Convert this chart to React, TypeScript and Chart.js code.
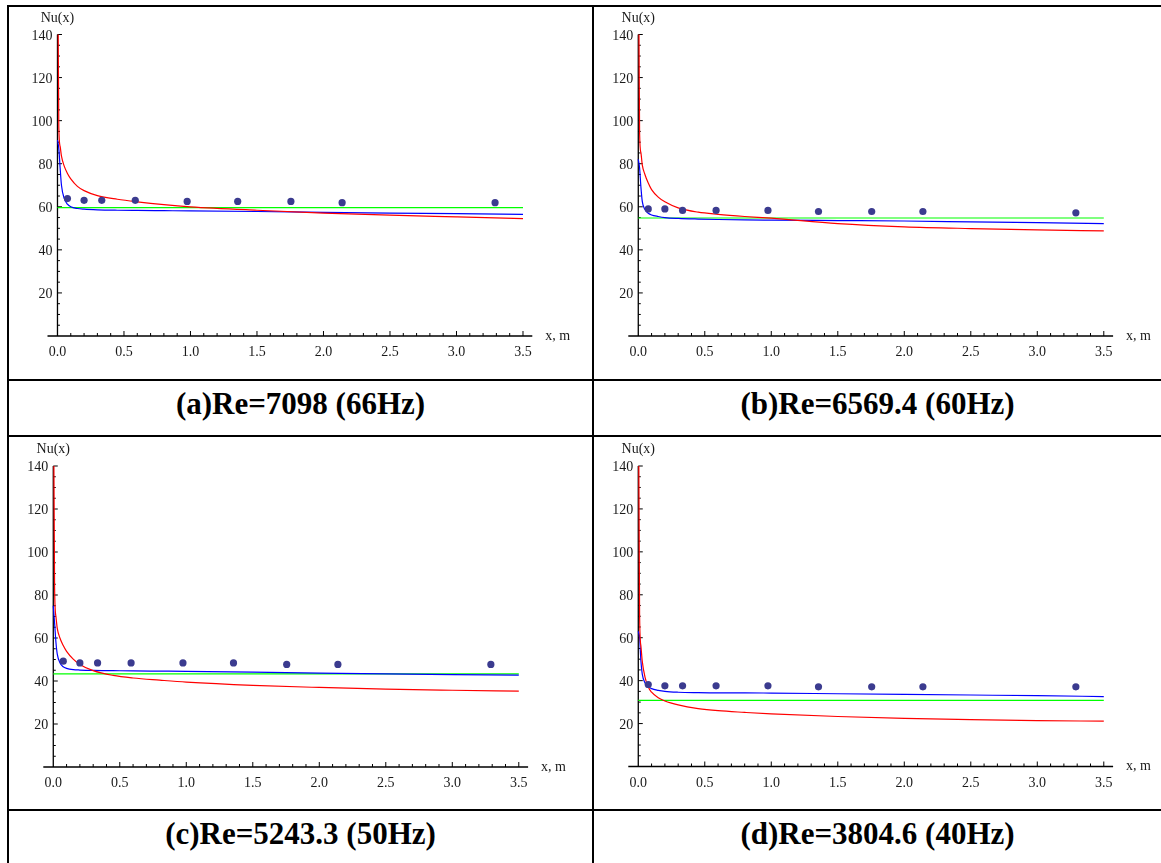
import React, { useEffect, useRef } from 'react';
import { Chart, registerables } from 'chart.js';

Chart.register(...registerables);

// ---------- data ----------
const measuredX = [0.075, 0.2, 0.333, 0.585, 0.975, 1.355, 1.755, 2.14, 3.29];
const curveX = [0, 0.01, 0.02, 0.03, 0.05, 0.075, 0.1, 0.15, 0.2, 0.3, 0.45, 0.6, 0.8, 1.0, 1.5, 2.0, 2.5, 3.0, 3.5];
const greenX = [0, 3.5];

// (a) Re=7098
const pointsA = [63.8, 63.0, 63.0, 63.0, 62.5, 62.5, 62.5, 61.9, 61.9];
const redA = [200, 97, 88, 83.5, 79, 75.5, 73, 69.5, 67.5, 65.2, 63.5, 62.3, 61.0, 60.0, 58.4, 57.1, 56.1, 55.3, 54.5];
const blueA = [91, 87, 78, 70, 64, 61.2, 60, 59.2, 58.9, 58.6, 58.4, 58.3, 58.2, 58.1, 57.8, 57.4, 57.1, 56.8, 56.5];
const greenA = [59.6, 59.6];

// (b) Re=6569.4
const pointsB = [59.0, 59.0, 58.3, 58.3, 58.3, 57.8, 57.8, 57.8, 57.2];
const redB = [200, 94, 85, 79.5, 75, 71, 68, 64.5, 62.3, 59.5, 57.5, 56.5, 55.5, 54.7, 52.2, 50.7, 49.9, 49.3, 48.8];
const blueB = [82, 78, 69, 62.5, 58.7, 57, 56.2, 55.5, 55.0, 54.6, 54.3, 54.1, 53.9, 53.8, 53.6, 53.4, 53.0, 52.6, 52.2];
const greenB = [54.8, 54.8];

// (c) Re=5243.3
const pointsC = [49.2, 48.4, 48.4, 48.4, 48.4, 48.4, 47.7, 47.7, 47.7];
const redC = [200, 83, 70, 64.5, 60, 56.5, 53.8, 50.2, 47.7, 44.8, 42.6, 41.4, 40.4, 39.5, 38.0, 37.0, 36.2, 35.7, 35.3];
const blueC = [75, 67, 58, 52.5, 48.5, 46.6, 45.9, 45.3, 45.1, 44.9, 44.8, 44.7, 44.6, 44.5, 44.1, 43.7, 43.3, 43.0, 42.7];
const greenC = [43.3, 43.3];

// (d) Re=3804.6
const pointsD = [38.2, 37.6, 37.6, 37.6, 37.6, 37.1, 37.1, 37.1, 37.1];
const redD = [200, 70, 56, 49, 41.8, 37, 34.6, 32.0, 30.5, 28.7, 27.0, 26.0, 25.2, 24.5, 23.3, 22.4, 21.8, 21.4, 21.1];
const blueD = [63, 60, 49, 43, 39, 37.2, 36.3, 35.5, 35.0, 34.6, 34.4, 34.3, 34.3, 34.2, 33.9, 33.6, 33.3, 33.0, 32.6];
const greenD = [30.8, 30.8];

const captions = ['(a)Re=7098 (66Hz)', '(b)Re=6569.4 (60Hz)', '(c)Re=5243.3 (50Hz)', '(d)Re=3804.6 (40Hz)'];

// ticks
const xTickLabels = [0, 0.5, 1.0, 1.5, 2.0, 2.5, 3.0, 3.5];
const yTickLabels = [20, 40, 60, 80, 100, 120, 140];
const xMinorStep = 0.1;
const yMinorStep = 5;

const xMin = -0.075;
const xMax = 3.57;
const yMin = 0;
const yMax = 140;

// ---------- layout (page px) ----------
type Rect = { left: number; top: number; w: number; h: number };
type Area = { left: number; right: number; top: number; bottom: number };
const panelLayout: { canvas: Rect; area: Area }[] = [
  { canvas: { left: 9, top: 7, w: 583, h: 372 }, area: { left: 47.5, right: 532.3, top: 34.5, bottom: 336 } },
  { canvas: { left: 594, top: 7, w: 567, h: 372 }, area: { left: 628.3, right: 1113.1, top: 34.5, bottom: 336 } },
  { canvas: { left: 9, top: 437, w: 583, h: 372 }, area: { left: 43.3, right: 528.1, top: 466, bottom: 767 } },
  { canvas: { left: 594, top: 437, w: 567, h: 372 }, area: { left: 628.3, right: 1113.1, top: 466, bottom: 766.5 } },
];

const panelData = [
  { points: pointsA, red: redA, blue: blueA, green: greenA },
  { points: pointsB, red: redB, blue: blueB, green: greenB },
  { points: pointsC, red: redC, blue: blueC, green: greenC },
  { points: pointsD, red: redD, blue: blueD, green: greenD },
];

const FONT = '"Liberation Serif", "Times New Roman", serif';

const axesPlugin = {
  id: 'mmaAxes',
  beforeDatasetsDraw(chart: any) {
    const { ctx, chartArea } = chart;
    const x = chart.scales.x;
    const y = chart.scales.y;
    const x0 = x.getPixelForValue(0);
    const y0 = y.getPixelForValue(0);
    ctx.save();
    ctx.strokeStyle = '#000';
    ctx.lineWidth = 1.3;
    ctx.beginPath();
    ctx.moveTo(chartArea.left, y0);
    ctx.lineTo(chartArea.right, y0);
    ctx.moveTo(x0, chartArea.bottom);
    ctx.lineTo(x0, chartArea.top);
    ctx.stroke();

    ctx.lineWidth = 1;
    ctx.beginPath();
    const nx = Math.round((xTickLabels[xTickLabels.length - 1] - 0) / xMinorStep);
    for (let i = 1; i <= nx; i++) {
      const v = i * xMinorStep;
      const major = i % 5 === 0;
      const px = x.getPixelForValue(v);
      ctx.moveTo(px, y0);
      ctx.lineTo(px, y0 - (major ? 5 : 3));
    }
    const ny = Math.round(yTickLabels[yTickLabels.length - 1] / yMinorStep);
    for (let i = 1; i <= ny; i++) {
      const v = i * yMinorStep;
      const major = i % 4 === 0;
      const py = y.getPixelForValue(v);
      ctx.moveTo(x0, py);
      ctx.lineTo(x0 + (major ? 4.5 : 2.5), py);
    }
    ctx.stroke();

    ctx.fillStyle = '#1a1a1a';
    ctx.font = `14px ${FONT}`;
    ctx.textBaseline = 'alphabetic';
    ctx.textAlign = 'center';
    xTickLabels.forEach((v) => ctx.fillText(v.toFixed(1), x.getPixelForValue(v), y0 + 20));
    ctx.textAlign = 'right';
    yTickLabels.forEach((v) => ctx.fillText(String(v), x0 - 5, y.getPixelForValue(v) + 5));
    ctx.textAlign = 'center';
    ctx.fillText('Nu(x)', x0, chartArea.top - 13);
    ctx.textAlign = 'left';
    ctx.fillText('x, m', chartArea.right + 13, y0 + 3.5);
    ctx.restore();
  },
};

function Panel({ index }: { index: number }) {
  const ref = useRef<HTMLCanvasElement | null>(null);
  const { canvas, area } = panelLayout[index];
  const d = panelData[index];
  useEffect(() => {
    if (!ref.current) return;
    const lineDs = (vals: number[], xs: number[], color: string) => ({
      type: 'scatter' as const,
      data: xs.map((xv, i) => ({ x: xv, y: vals[i] })),
      showLine: true,
      borderColor: color,
      backgroundColor: color,
      borderWidth: 1.2,
      pointRadius: 0,
      cubicInterpolationMode: 'monotone' as const,
      fill: false,
    });
    const chart = new Chart(ref.current, {
      type: 'scatter',
      data: {
        datasets: [
          {
            data: measuredX.map((xv, i) => ({ x: xv, y: d.points[i] })),
            pointRadius: 3.6,
            pointBackgroundColor: '#3b3b8f',
            pointBorderWidth: 0,
            showLine: false,
          } as any,
          lineDs(d.red, curveX, '#ff0000'),
          lineDs(d.blue, curveX, '#0000ff'),
          lineDs(d.green, greenX, '#00ff00'),
        ],
      },
      options: {
        animation: false,
        responsive: false,
        events: [],
        layout: {
          padding: {
            left: area.left - canvas.left,
            top: area.top - canvas.top,
            right: canvas.left + canvas.w - area.right,
            bottom: canvas.top + canvas.h - area.bottom,
          },
        },
        plugins: { legend: { display: false }, tooltip: { enabled: false } },
        scales: {
          x: { type: 'linear', min: xMin, max: xMax, display: false },
          y: { type: 'linear', min: yMin, max: yMax, display: false },
        },
      },
      plugins: [axesPlugin],
    });
    return () => chart.destroy();
  }, [index]);
  return (
    <canvas
      ref={ref}
      width={canvas.w}
      height={canvas.h}
      style={{ position: 'absolute', left: canvas.left, top: canvas.top, width: canvas.w, height: canvas.h, display: 'block' }}
    />
  );
}

const captionPos = [
  { left: 9, width: 583, baseline: 414 },
  { left: 594, width: 567, baseline: 414 },
  { left: 9, width: 583, baseline: 844 },
  { left: 594, width: 567, baseline: 844 },
];

function Line({ l, t, w, h }: { l: number; t: number; w: number; h: number }) {
  return <div style={{ position: 'absolute', left: l, top: t, width: w, height: h, background: '#000' }} />;
}

export default function App() {
  return (
    <div style={{ position: 'absolute', left: 0, top: 0, width: 1161, height: 863, overflow: 'hidden', background: '#fff' }}>
      <Line l={7} t={5} w={1154} h={2} />
      <Line l={7} t={379} w={1154} h={2} />
      <Line l={7} t={435} w={1154} h={2} />
      <Line l={7} t={809} w={1154} h={2} />
      <Line l={7} t={5} w={2} h={858} />
      <Line l={592} t={5} w={2} h={858} />
      {[0, 1, 2, 3].map((i) => (
        <Panel key={i} index={i} />
      ))}
      {captions.map((c, i) => (
        <div
          key={c}
          style={{
            position: 'absolute',
            left: captionPos[i].left,
            width: captionPos[i].width,
            top: captionPos[i].baseline - 27.5,
            height: 34,
            lineHeight: '34px',
            textAlign: 'center',
            fontFamily: FONT,
            fontWeight: 'bold',
            fontSize: 31,
            color: '#000',
            whiteSpace: 'nowrap',
          }}
        >
          {c}
        </div>
      ))}
    </div>
  );
}
